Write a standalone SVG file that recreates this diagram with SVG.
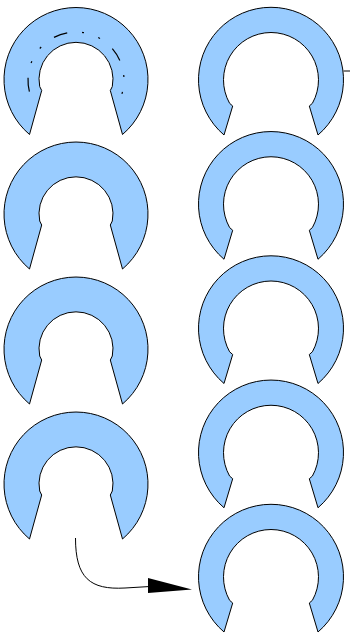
<svg xmlns="http://www.w3.org/2000/svg" xmlns:xlink="http://www.w3.org/1999/xlink" width="350" height="634" viewBox="0 0 350 634">
  <style>
    .ring { fill: #99ccff; stroke: #000; stroke-width: 1; stroke-linejoin: miter; }
    .conn { fill: none; stroke: #000; stroke-width: 1; }
    .dashdot { fill: none; stroke: #000; stroke-width: 1.2; stroke-dasharray: 14 15 2 15 2 16; }
    .head { fill: #000; stroke: none; }
  </style>
  <defs>
    <path id="thick" class="ring" d="M -46.5,55 A 72,72 0 1 1 46.5,55 L 34.3,11 L 36.3,7 A 37,37 0 1 0 -36.3,7 L -34.3,11 Z"/>
    <path id="thin" class="ring" d="M -47,55 A 72.5,72.5 0 1 1 47,55 L 38.3,26 L 41.4,23.3 A 47.5,47.5 0 1 0 -41.4,23.3 L -38.3,26 Z"/>
  </defs>

  <g id="left1">
    <use xlink:href="#thick" href="#thick" transform="translate(76,79.5)"/>
    <path class="dashdot" d="M 29.4,91.6 A 48,48 0 1 1 120.5,98"/>
  </g>
  <g id="left2"><use xlink:href="#thick" href="#thick" transform="translate(76,214)"/></g>
  <g id="left3"><use xlink:href="#thick" href="#thick" transform="translate(76,349)"/></g>
  <g id="left4"><use xlink:href="#thick" href="#thick" transform="translate(76,484)"/></g>

  <g id="right1"><use xlink:href="#thin" href="#thin" transform="translate(271,80)"/></g>
  <g id="right2"><use xlink:href="#thin" href="#thin" transform="translate(271,204.25)"/></g>
  <g id="right3"><use xlink:href="#thin" href="#thin" transform="translate(271,328.5)"/></g>
  <g id="right4"><use xlink:href="#thin" href="#thin" transform="translate(271,452.75)"/></g>
  <g id="right5"><use xlink:href="#thin" href="#thin" transform="translate(271,577)"/></g>

  <g id="connectors">
    <path class="conn" d="M 343.5,71 L 350,71"/>
    <path class="conn" d="M 75.5,538 C 75.5,578 90,590 125,588 L 150,586.5"/>
    <polygon class="head" points="148,578 192,589.5 148,593"/>
  </g>
</svg>
